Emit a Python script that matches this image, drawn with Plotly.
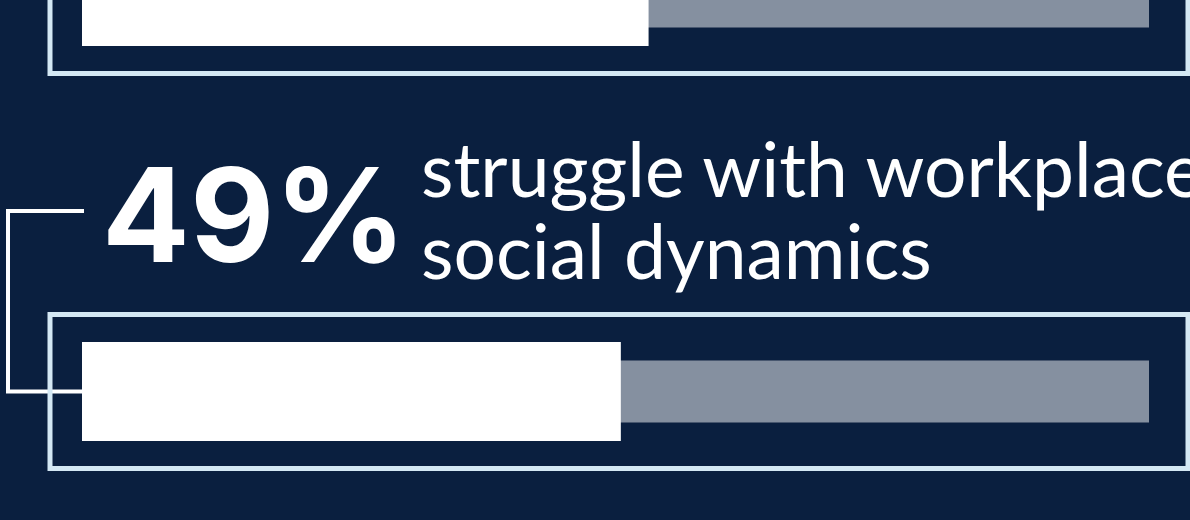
import plotly.graph_objects as go

# ---- data ----
categories = ["previous item", "struggle with workplace social dynamics"]
bar_values = [53.1, 50.5]          # white bar lengths (% of track)
track_values = [100, 100]          # full track
headline = ["", "49%"]
desc_line1 = ["", "struggle with workplace"]
desc_line2 = ["", "social dynamics"]

# ---- style ----
NAVY = "#0a1f3f"
TRACK = "#8590a0"
BOX = "#d4e8f4"
W = 1190
H = 520

# axis mapping (0 -> px 82, 100 -> px 1149)
PX_PER_UNIT = (1149 - 82) / 100.0
x_range = [(0 - 82) / PX_PER_UNIT, (W - 82) / PX_PER_UNIT]
PX_PER_CAT = 395.0
y_range = [(391.5 - H) / PX_PER_CAT, (391.5 - 0) / PX_PER_CAT]

# order bottom (index 0) to top
ypos = [1, 0]  # categories[0] is top, categories[1] is bottom

fig = go.Figure()
fig.add_trace(go.Bar(
    y=ypos, x=track_values, orientation="h", width=62 / PX_PER_CAT,
    marker=dict(color=TRACK, line=dict(width=0)), hoverinfo="skip", showlegend=False))
fig.add_trace(go.Bar(
    y=ypos, x=bar_values, orientation="h", width=99 / PX_PER_CAT,
    marker=dict(color="white", line=dict(width=0)), hoverinfo="skip", showlegend=False,
    text=categories, textposition="none"))

shapes = []
annotations = []
for i, cat in enumerate(categories):
    yc = ypos[i]
    # connector line from headline to bar
    if headline[i]:
        xl = (8 - 82) / PX_PER_UNIT
        xr = (84 - 82) / PX_PER_UNIT
        yt = yc + (391.5 - 211) / PX_PER_CAT
        shapes.append(dict(type="path", xref="x", yref="y",
                           path=f"M {xr},{yt} L {xl},{yt} L {xl},{yc} L 0,{yc}",
                           line=dict(color="white", width=4), layer="above"))
    # outline box
    shapes.append(dict(type="rect", xref="x", yref="y",
                       x0=(50 - 82) / PX_PER_UNIT, x1=(1188 - 82) / PX_PER_UNIT,
                       y0=yc - 77 / PX_PER_CAT, y1=yc + 77 / PX_PER_CAT,
                       line=dict(color=BOX, width=5), fillcolor="rgba(0,0,0,0)", layer="above"))
    if headline[i]:
        annotations.append(dict(x=(100 - 82) / PX_PER_UNIT, y=yc + (391.5 - 214) / PX_PER_CAT,
                                xref="x", yref="y", xanchor="left", yanchor="middle",
                                text=headline[i], showarrow=False,
                                font=dict(family="Inter", size=130, color="white", weight=700)))
        annotations.append(dict(x=(419 - 82) / PX_PER_UNIT, y=yc + (391.5 - 168) / PX_PER_CAT,
                                xref="x", yref="y", xanchor="left", yanchor="middle",
                                text=desc_line1[i], showarrow=False,
                                font=dict(family="Lato", size=75, color="white")))
        annotations.append(dict(x=(419 - 82) / PX_PER_UNIT, y=yc + (391.5 - 250) / PX_PER_CAT,
                                xref="x", yref="y", xanchor="left", yanchor="middle",
                                text=desc_line2[i], showarrow=False,
                                font=dict(family="Lato", size=75, color="white")))

fig.update_layout(
    width=W, height=H, margin=dict(l=0, r=0, t=0, b=0),
    paper_bgcolor=NAVY, plot_bgcolor=NAVY,
    barmode="overlay", showlegend=False,
    xaxis=dict(range=x_range, visible=False, fixedrange=True),
    yaxis=dict(range=y_range, visible=False, fixedrange=True),
    shapes=shapes, annotations=annotations,
)
fig.write_html("out.html", config={"displayModeBar": False})
